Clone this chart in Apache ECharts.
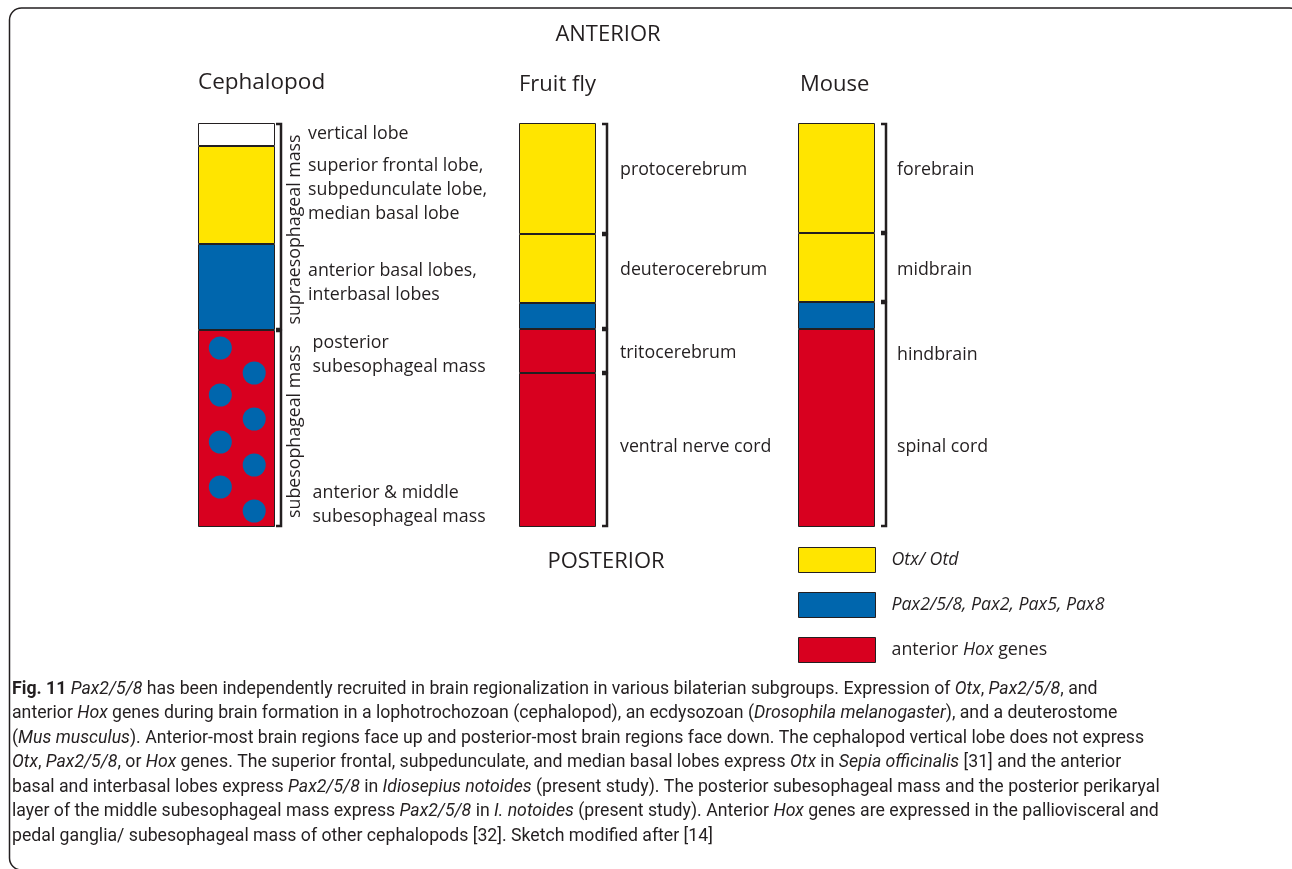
<!DOCTYPE html>
<html>
<head>
<meta charset="utf-8">
<script src="https://cdn.jsdelivr.net/npm/echarts@6/dist/echarts.min.js"></script>
<style>
  html, body { margin: 0; padding: 0; background: #fff; }
  #chart { width: 1292px; height: 869px; }
</style>
</head>
<body>
<div id="chart"></div>
<script>
var organisms = ['Cephalopod', 'Fruit fly', 'Mouse'];

// segment lengths, anterior (top) to posterior, same scale for all columns
var cephSegments = [23, 98, 86, 197];
var cephGenes = ['none', 'otx', 'pax', 'hox'];
var flySegments = [111, 69, 26, 44, 154];
var flyGenes = ['otx', 'otx', 'pax', 'hox', 'hox'];
var mouseSegments = [110, 69, 27, 198];
var mouseGenes = ['otx', 'otx', 'pax', 'hox'];

// brackets [from, to, name]
var cephBrackets = [[0, 207, 'supraesophageal mass'], [207, 404, 'subesophageal mass']];
var flyBrackets = [[0, 111, ''], [111, 206, ''], [206, 250, ''], [250, 404, '']];
var mouseBrackets = [[0, 110, ''], [110, 179, ''], [179, 404, '']];

// region labels [depth, text]
var cephLabels = [
  [11, 'vertical lobe'],
  [67, 'superior frontal lobe,\nsubpedunculate lobe,\nmedian basal lobe'],
  [160, 'anterior basal lobes,\ninterbasal lobes'],
  [232, ' posterior\n subesophageal mass'],
  [382, ' anterior & middle\n subesophageal mass']
];
var flyLabels = [[47, 'protocerebrum'], [147, 'deuterocerebrum'], [230, 'tritocerebrum'], [324, 'ventral nerve cord']];
var mouseLabels = [[47, 'forebrain'], [147, 'midbrain'], [232, 'hindbrain'], [324, 'spinal cord']];

// Pax2/5/8 dots in the cephalopod subesophageal mass [across, depth]
var cephDots = [[0.29, 225], [0.73, 250], [0.29, 272], [0.73, 296], [0.29, 319], [0.73, 342], [0.29, 364], [0.73, 388]];

var geneNames = {
  none: 'vertical lobe',
  otx: 'Otx/ Otd',
  pax: 'Pax2/5/8, Pax2, Pax5, Pax8',
  hox: 'anterior Hox genes'
};
var geneColors = { none: '#ffffff', otx: '#ffe500', pax: '#0066ad', hox: '#d8001f' };
var ink = '#231f20';
var FONT = '"Open Sans", "Noto Sans", sans-serif';
var LABEL_SIZE = 17.8;

var myChart = echarts.init(document.getElementById('chart'));

var colLeft = [198, 519, 798];
var bracketGap = [6, 11, 11];
var labelGap = [33, 24, 22];

var grids = [], xAxes = [], yAxes = [], series = [];
for (var i = 0; i < 3; i++) {
  grids.push({ left: colLeft[i], top: 123, width: 77, height: 404 });
  xAxes.push({ type: 'category', gridIndex: i, data: [organisms[i]], show: false });
  yAxes.push({ type: 'value', gridIndex: i, min: 0, max: 404, inverse: true, show: false });
}
// extra value axis across the cephalopod column for the dots
xAxes.push({ type: 'value', gridIndex: 0, min: 0, max: 1, show: false });

function barSeries(idx, segs, genes) {
  for (var j = 0; j < segs.length; j++) {
    series.push({
      type: 'bar',
      name: geneNames[genes[j]],
      xAxisIndex: idx,
      yAxisIndex: idx,
      stack: 'col' + idx,
      barWidth: '100%',
      data: [segs[j]],
      itemStyle: { color: geneColors[genes[j]], borderColor: ink, borderWidth: 1 },
      silent: true
    });
  }
}

function bracketSeries(idx, brackets) {
  series.push({
    type: 'custom',
    xAxisIndex: idx,
    yAxisIndex: idx,
    silent: true,
    z: 4,
    encode: { x: 0, y: [1, 2] },
    data: brackets.map(function (b) { return [0, b[0], b[1], b[2]]; }),
    renderItem: function (params, api) {
      var p0 = api.coord([0, api.value(1)]);
      var p1 = api.coord([0, api.value(2)]);
      var half = api.size([1, 0])[0] / 2;
      var x = p0[0] + half + bracketGap[idx];
      var children = [{
        type: 'polyline',
        shape: { points: [[x - 5, p0[1] + 1], [x, p0[1] + 1], [x, p1[1] - 1], [x - 5, p1[1] - 1]] },
        style: { stroke: ink, lineWidth: 2.5, fill: null }
      }];
      var name = api.value(3);
      if (name) {
        children.push({
          type: 'text',
          x: x + 14,
          y: (p0[1] + p1[1]) / 2 + 3,
          rotation: Math.PI / 2,
          style: {
            text: name, fill: ink, fontSize: LABEL_SIZE, fontFamily: FONT,
            align: 'center', verticalAlign: 'middle'
          }
        });
      }
      return { type: 'group', children: children };
    }
  });
}

function labelSeries(idx, labels) {
  series.push({
    type: 'custom',
    xAxisIndex: idx,
    yAxisIndex: idx,
    silent: true,
    z: 4,
    encode: { x: 0, y: 1 },
    data: labels.map(function (l) { return [0, l[0], l[1]]; }),
    renderItem: function (params, api) {
      var p = api.coord([0, api.value(1)]);
      var half = api.size([1, 0])[0] / 2;
      return {
        type: 'text',
        x: p[0] + half + labelGap[idx],
        y: p[1],
        style: {
          text: api.value(2), fill: ink, fontSize: LABEL_SIZE, fontFamily: FONT,
          lineHeight: 24, align: 'left', verticalAlign: 'middle'
        }
      };
    }
  });
}

barSeries(0, cephSegments, cephGenes);
barSeries(1, flySegments, flyGenes);
barSeries(2, mouseSegments, mouseGenes);
series.push({
  type: 'scatter',
  name: geneNames.pax,
  xAxisIndex: 3,
  yAxisIndex: 0,
  data: cephDots,
  symbolSize: 23,
  itemStyle: { color: geneColors.pax, opacity: 1 },
  silent: true,
  z: 5
});
bracketSeries(0, cephBrackets);
bracketSeries(1, flyBrackets);
bracketSeries(2, mouseBrackets);
labelSeries(0, cephLabels);
labelSeries(1, flyLabels);
labelSeries(2, mouseLabels);

var legendText = {
  'Otx/ Otd': '{sp|}{i|Otx/ Otd}',
  'Pax2/5/8, Pax2, Pax5, Pax8': '{sp|}{i|Pax2/5/8, Pax2, Pax5, Pax8}',
  'anterior Hox genes': '{sp|}{n|anterior }{i|Hox}{n| genes}'
};

var captionLines = [
  '{b|Fig. 11} {i|Pax2/5/8} has been independently recruited in brain regionalization in various bilaterian subgroups. Expression of {i|Otx}, {i|Pax2/5/8}, and',
  'anterior {i|Hox} genes during brain formation in a lophotrochozoan (cephalopod), an ecdysozoan ({i|Drosophila melanogaster}), and a deuterostome',
  '({i|Mus musculus}). Anterior-most brain regions face up and posterior-most brain regions face down. The cephalopod vertical lobe does not express',
  '{i|Otx}, {i|Pax2/5/8}, or {i|Hox} genes. The superior frontal, subpedunculate, and median basal lobes express {i|Otx} in {i|Sepia officinalis} [31] and the anterior',
  'basal and interbasal lobes express {i|Pax2/5/8} in {i|Idiosepius notoides} (present study). The posterior subesophageal mass and the posterior perikaryal',
  'layer of the middle subesophageal mass express {i|Pax2/5/8} in {i|I. notoides} (present study). Anterior {i|Hox} genes are expressed in the palliovisceral and',
  'pedal ganglia/ subesophageal mass of other cephalopods [32]. Sketch modified after [14]'
];
var capFont = 'Roboto, sans-serif';
var capSize = 17.7;
var capLine = 24.5;

var option = {
  animation: false,
  backgroundColor: '#fff',
  grid: grids,
  xAxis: xAxes,
  yAxis: yAxes,
  legend: {
    data: [geneNames.otx, geneNames.pax, geneNames.hox],
    orient: 'vertical',
    left: 798,
    top: 547,
    padding: 0,
    itemWidth: 77,
    itemHeight: 25,
    itemGap: 19,
    icon: 'rect',
    selectedMode: false,
    itemStyle: { borderColor: ink, borderWidth: 1 },
    formatter: function (name) { return legendText[name]; },
    textStyle: {
      color: ink, fontSize: LABEL_SIZE, fontFamily: FONT,
      rich: {
        sp: { width: 11 },
        i: { fontStyle: 'italic', fontSize: LABEL_SIZE, fontFamily: FONT, color: ink },
        n: { fontSize: LABEL_SIZE, fontFamily: FONT, color: ink }
      }
    }
  },
  graphic: [
    {
      type: 'rect', silent: true,
      shape: { x: 9.5, y: 8, width: 1292, height: 862, r: 12 },
      style: { fill: null, stroke: ink, lineWidth: 1.5 }
    },
    {
      type: 'text', x: 608, y: 35, silent: true,
      style: { text: 'ANTERIOR', fontSize: 22, fontFamily: FONT, fill: ink, align: 'center', verticalAlign: 'middle' }
    },
    {
      type: 'text', x: 606, y: 562, silent: true,
      style: { text: 'POSTERIOR', fontSize: 22, fontFamily: FONT, fill: ink, align: 'center', verticalAlign: 'middle' }
    },
    {
      type: 'text', x: 198, y: 83, silent: true,
      style: { text: organisms[0], fontSize: 22.5, fontFamily: FONT, fill: ink, align: 'left', verticalAlign: 'middle' }
    },
    {
      type: 'text', x: 519, y: 85, silent: true,
      style: { text: organisms[1], fontSize: 22, fontFamily: FONT, fill: ink, align: 'left', verticalAlign: 'middle' }
    },
    {
      type: 'text', x: 800, y: 85, silent: true,
      style: { text: organisms[2], fontSize: 22, fontFamily: FONT, fill: ink, align: 'left', verticalAlign: 'middle' }
    },
    {
      type: 'text', x: 12, y: 677, silent: true,
      style: {
        text: captionLines.join('\n'),
        fontSize: capSize, fontFamily: capFont, fill: ink, lineHeight: capLine,
        align: 'left', verticalAlign: 'top',
        rich: {
          b: { fontWeight: 'bold', fontSize: capSize, fontFamily: capFont, fill: ink, lineHeight: capLine },
          i: { fontStyle: 'italic', fontSize: capSize, fontFamily: capFont, fill: ink, lineHeight: capLine }
        }
      }
    }
  ],
  series: series
};
myChart.setOption(option);
window.addEventListener('resize', function () {
  myChart.resize();
});
</script>
</body>
</html>
